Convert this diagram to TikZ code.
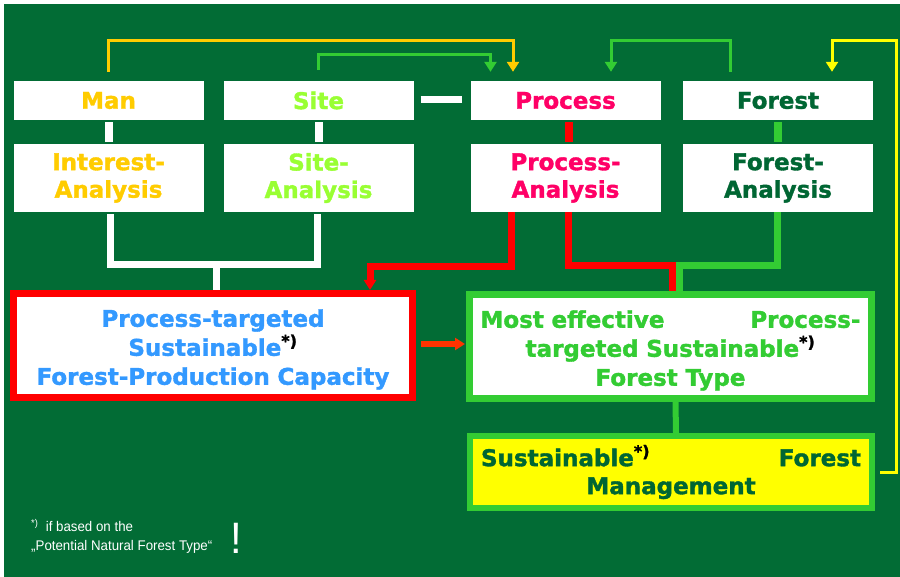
\documentclass[tikz,border=0pt]{standalone}
\usepackage{fontspec}
\usepackage{xcolor}
\setmainfont{DejaVu Sans}[BoldFeatures={FakeBold=1.5}]
\newfontfamily\notefont[FakeStretch=0.95]{Liberation Sans}
\usetikzlibrary{arrows.meta}

\definecolor{bggreen}{HTML}{026C35}
\definecolor{mangold}{HTML}{FFCC00}
\definecolor{sitelime}{HTML}{99FF33}
\definecolor{procpink}{HTML}{FF0066}
\definecolor{forestdark}{HTML}{006633}
\definecolor{capblue}{HTML}{3399FF}
\definecolor{typegreen}{HTML}{33CC33}
\definecolor{flamered}{HTML}{FF3300}
\definecolor{mgmtyellow}{HTML}{FFFF00}

\newcommand{\starmark}{\textsuperscript{\color{black}*)}}

\tikzset{
  box/.style={fill=white, inner sep=0pt, align=center, font=\fontsize{23}{27.5}\selectfont\bfseries},
  topbox/.style={box, minimum width=190pt, minimum height=39pt},
  anabox/.style={box, minimum width=190pt, minimum height=68pt},
  bigbox/.style={box, line width=7pt, text width=380pt, minimum height=104pt, font=\fontsize{23}{29}\selectfont\bfseries},
  thinlink/.style={line width=3pt},
  barlink/.style={line width=7pt},
  downtip/.style={-{Triangle[width=12pt,length=10pt]}}
}

\begin{document}
\begin{tikzpicture}[x=1pt,y=-1pt]
\useasboundingbox (0,0) rectangle (900,577);
\fill[bggreen] (4,4) rectangle (900,577);

\node[topbox, text=mangold] (man) at (108.5,100.5) {Man};
\node[topbox, text=sitelime] (site) at (318.5,100.5) {Site};
\node[topbox, text=procpink] (process) at (565.5,100.5) {Process};
\node[topbox, text=forestdark] (forest) at (778,100.5) {Forest};
\node[anabox, text=mangold] (interest) at (108.5,178) {Interest-\\Analysis};
\node[anabox, text=sitelime] (siteana) at (318.5,178) {Site-\\Analysis};
\node[anabox, text=procpink] (procana) at (565.5,178) {Process-\\Analysis};
\node[anabox, text=forestdark] (forestana) at (778,178) {Forest-\\Analysis};

\node[bigbox, draw=red, minimum width=399pt, text=capblue] (capacity) at (213,345.5)
  {\rule{0pt}{25.5pt}Process-targeted\\Sustainable\starmark\\Forest-Production Capacity};
\node[bigbox, draw=typegreen, minimum width=402pt, text=typegreen] (foresttype) at (670.5,346.5)
  {\rule{0pt}{25.5pt}\makebox[380pt]{Most effective\hfill Process-}\\targeted Sustainable\starmark\\Forest Type};
\node[bigbox, draw=typegreen, fill=mgmtyellow, line width=6pt, minimum width=402pt,
  minimum height=72pt, text=forestdark, font=\fontsize{23}{28}\selectfont\bfseries] (mgmt) at (671,472)
  {\makebox[380pt]{Sustainable\starmark\hfill Forest}\\Management};

\draw[thinlink, mangold, downtip] ([yshift=9pt]man.north) -- ++(0,-31)
  -| ([xshift=-52.5pt,yshift=9pt]process.north);
\draw[thinlink, typegreen, downtip] ([yshift=11pt]site.north) -- ++(0,-15)
  -| ([xshift=-75pt,yshift=9pt]process.north);
\draw[thinlink, typegreen, downtip] ([xshift=-48pt,yshift=9pt]forest.north) -- ++(0,-31)
  -| ([xshift=45.5pt,yshift=9pt]process.north);
\draw[thinlink, mgmtyellow, downtip] ([xshift=5pt]mgmt.east) -- ++(16,0) -- ++(0,-431)
  -| ([xshift=54pt,yshift=9pt]forest.north);

\draw[barlink, white, shorten <=7pt, shorten >=8pt] ([yshift=1pt]site.east) -- ([yshift=1pt]process.west);
\draw[barlink, white, line width=8pt, shorten <=2pt, shorten >=2pt] (man) -- (interest);
\draw[barlink, white, line width=8pt, shorten <=2pt, shorten >=2pt] (site) -- (siteana);
\draw[barlink, red, line width=8pt, shorten <=2pt, shorten >=2pt] ([xshift=3pt]process.south) -- ([xshift=3pt]procana.north);
\draw[barlink, typegreen, line width=8pt, shorten <=2pt, shorten >=2pt] (forest) -- (forestana);

\coordinate (wjoin) at (216,264.5);
\draw[barlink, white] ([xshift=2pt,yshift=-2pt]interest.south) |- (wjoin)
  -| ([xshift=-1.5pt,yshift=-2pt]siteana.south);
\draw[barlink, white] (wjoin) -- (wjoin |- capacity.north);

\draw[barlink, red, downtip] ([xshift=-54.5pt]procana.south) -- ++(0,54)
  -| ([xshift=157pt]capacity.north);
\draw[barlink, red] ([xshift=2.5pt]procana.south) -- ++(0,53)
  -| ([xshift=1.5pt]foresttype.north);
\draw[barlink, typegreen] ([xshift=-1pt]forestana.south) -- ++(0,53)
  -| ([xshift=8.5pt]foresttype.north);

\draw[barlink, line width=6pt, flamered, downtip, shorten <=5pt, shorten >=1pt]
  ([yshift=1.5pt]capacity.east) -- ([yshift=2.5pt]foresttype.west);
\draw[barlink, line width=6pt, typegreen] ([xshift=5pt]foresttype.south) -- ([xshift=5pt]mgmt.north);

\node[anchor=north west, inner sep=0pt, align=left, text=white,
  font=\notefont\fontsize{14}{18.5}\selectfont] (note) at (31,519)
  {\textsuperscript{*)}\ \ if based on the\\„Potential Natural Forest Type“};
\node[inner sep=0pt, text=white, font=\notefont\fontsize{44}{44}\selectfont] (bang) at (236,538) {!};
\end{tikzpicture}
\end{document}
